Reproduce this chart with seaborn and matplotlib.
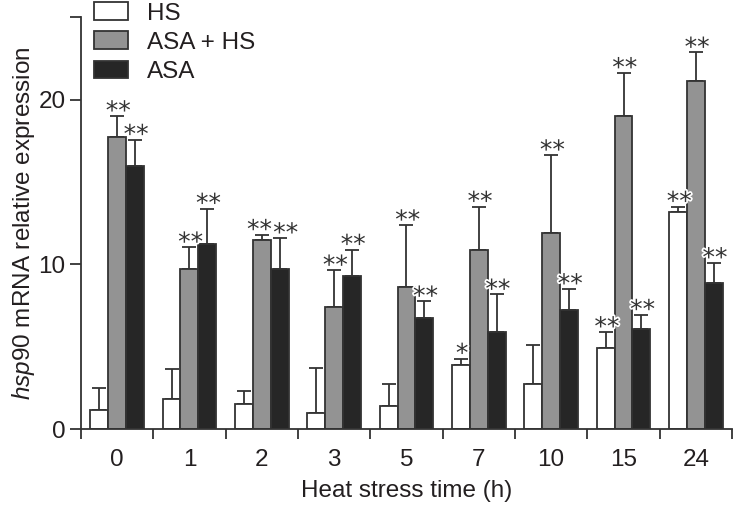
import numpy as np
import pandas as pd
import matplotlib
matplotlib.use("Agg")
import matplotlib.pyplot as plt
import matplotlib.patheffects as pe
import seaborn as sns

# ── Data ─────────────────────────────────────────────────────────────────────
times = ["0", "1", "2", "3", "5", "7", "10", "15", "24"]
groups = ["HS", "ASA + HS", "ASA"]

hs_mean = [1.15, 1.82, 1.56, 1.01, 1.44, 3.89, 2.74, 4.92, 13.21]
hs_err = [1.35, 1.83, 0.75, 2.72, 1.30, 0.40, 2.38, 0.98, 0.30]
asahs_mean = [17.7, 9.73, 11.5, 7.42, 8.61, 10.86, 11.89, 19.03, 21.13]
asahs_err = [1.30, 1.31, 0.30, 2.22, 3.77, 2.65, 4.74, 2.59, 1.73]
asa_mean = [15.96, 11.25, 9.74, 9.28, 6.77, 5.87, 7.25, 6.10, 8.85]
asa_err = [1.61, 2.14, 1.86, 1.62, 0.99, 2.31, 1.26, 0.85, 1.24]

hs_sig = ["", "", "", "", "", "*", "", "**", "**"]
asahs_sig = ["**"] * 9
asa_sig = ["**"] * 9

colors = ["#ffffff", "#939393", "#262626"]
edge = "#333333"
text_col = "#231f20"

df = pd.DataFrame({
    "time": times * 3,
    "group": np.repeat(groups, len(times)),
    "value": hs_mean + asahs_mean + asa_mean,
})
errs = [hs_err, asahs_err, asa_err]
sigs = [hs_sig, asahs_sig, asa_sig]

# small sideways nudges (points) so crowded asterisks don't collide
nudge = {(1, 2): -2.5, (2, 2): 3.5}

# ── Style ────────────────────────────────────────────────────────────────────
sns.set_style("ticks")
plt.rcParams["font.family"] = ["Liberation Sans", "DejaVu Sans"]
plt.rcParams["mathtext.fontset"] = "custom"
plt.rcParams["mathtext.rm"] = "Liberation Sans"
plt.rcParams["mathtext.it"] = "Liberation Sans:style=italic"
plt.rcParams["text.color"] = text_col
plt.rcParams["axes.labelcolor"] = text_col
plt.rcParams["xtick.color"] = edge
plt.rcParams["ytick.color"] = edge
plt.rcParams["xtick.labelcolor"] = text_col
plt.rcParams["ytick.labelcolor"] = text_col

FS = 17.5

fig = plt.figure(figsize=(7.35, 5.05), dpi=100)
ax = fig.add_axes([0.110, 0.150, 0.886, 0.816])

sns.barplot(data=df, x="time", y="value", hue="group", order=times,
            hue_order=groups, palette=colors, width=0.74, gap=0,
            edgecolor=edge, linewidth=1.3, errorbar=None, ax=ax, zorder=2)

# ── Upward error bars + significance marks ───────────────────────────────────
for k, (cont, err, sig) in enumerate(zip(ax.containers, errs, sigs)):
    for i, (bar, e, s) in enumerate(zip(cont, err, sig)):
        xc = bar.get_x() + bar.get_width() / 2
        h = bar.get_height()
        ax.errorbar(xc, h, yerr=[[0], [e]], fmt="none", ecolor=edge,
                    elinewidth=1.3, capsize=5, capthick=1.3, zorder=1)
        if s:
            dx = 0.8 + nudge.get((k, i), 0)
            ax.annotate(s, (xc, h + e), xytext=(dx, -5.5), textcoords="offset points",
                        ha="center", va="bottom", fontsize=18, color="#333333",
                        family="DejaVu Sans",
                        path_effects=[pe.withStroke(linewidth=2.5, foreground="white")],
                        zorder=5)

# ── Axes ─────────────────────────────────────────────────────────────────────
ax.set_xlim(-0.5, len(times) - 0.5)
ax.set_ylim(0, 25)
ax.set_yticks([0, 10, 20, 25])
ax.set_yticklabels(["0", "10", "20", ""])
ax.set_xticks(np.arange(-0.5, len(times)), labels=[""] * (len(times) + 1))
ax.set_xticks(np.arange(len(times)), labels=times, minor=True)
ax.tick_params(axis="x", which="major", length=7, width=1.3, direction="out")
ax.tick_params(axis="x", which="minor", length=0, labelsize=FS, pad=14)
ax.tick_params(axis="y", length=8, width=1.3, labelsize=FS, pad=3)
for sp in ["left", "bottom"]:
    ax.spines[sp].set_linewidth(1.3)
    ax.spines[sp].set_color(edge)
sns.despine(ax=ax)

ax.set_xlabel("Heat stress time (h)", fontsize=FS, labelpad=7)
ax.set_ylabel(r"$\mathit{hsp90}$ mRNA relative expression", fontsize=FS, labelpad=1)

handles, labels = ax.get_legend_handles_labels()
ax.legend(handles, labels, loc="upper left", bbox_to_anchor=(0.005, 1.06),
          frameon=False, fontsize=FS, handlelength=1.4, handleheight=0.75,
          labelspacing=0.28, handletextpad=0.8, borderaxespad=0)

plt.savefig("out.png", dpi=100)
plt.close()
